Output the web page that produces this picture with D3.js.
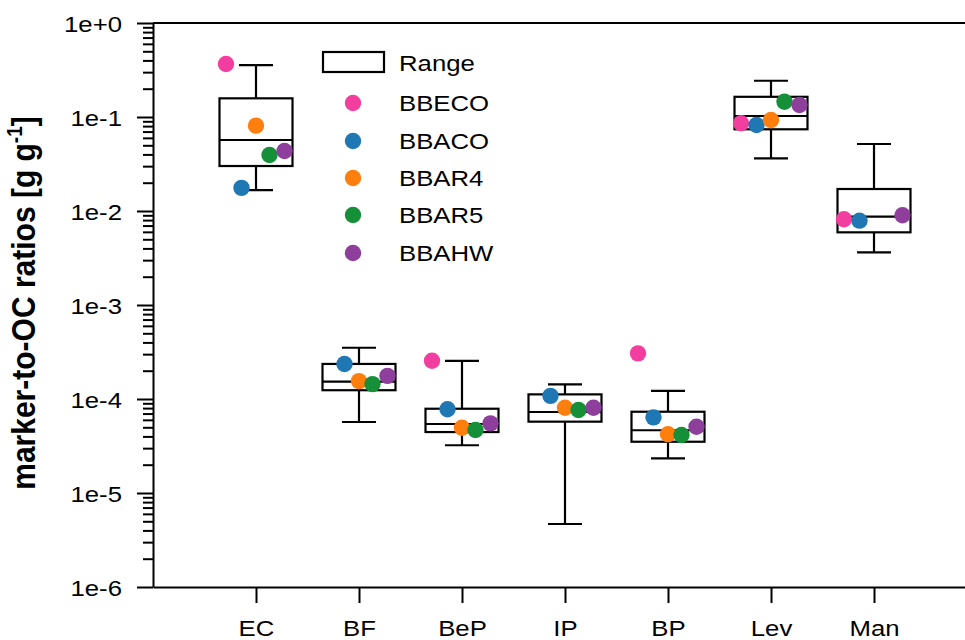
<!DOCTYPE html>
<html>
<head>
<meta charset="utf-8">
<script src="https://cdn.jsdelivr.net/npm/d3@7"></script>
<style>
  html, body { margin: 0; padding: 0; background: #fff; }
  svg { display: block; }
  text { font-family: "Liberation Sans", Arial, Helvetica, sans-serif; fill: #000; }
</style>
</head>
<body>
<svg id="chart" width="965" height="640"></svg>
<script>
// ---------------- data ----------------
const categories = ["EC", "BF", "BeP", "IP", "BP", "Lev", "Man"];
const whiskerHigh = [0.357, 3.51e-4, 2.55e-4, 1.43e-4, 1.22e-4, 0.243, 0.0516];
const boxHigh     = [0.158, 2.36e-4, 7.88e-5, 1.12e-4, 7.32e-5, 0.164, 0.01714];
const medians     = [0.0569, 1.53e-4, 5.42e-5, 7.27e-5, 4.65e-5, 0.1025, 0.0087];
const boxLow      = [0.0301, 1.24e-4, 4.45e-5, 5.74e-5, 3.51e-5, 0.074, 0.00593];
const whiskerLow  = [0.0167, 5.69e-5, 3.22e-5, 4.68e-6, 2.34e-5, 0.0363, 0.00363];

const seriesNames = ["BBECO", "BBACO", "BBAR4", "BBAR5", "BBAHW"];
const bbeco = [0.366, null, 2.55e-4, null, 3.06e-4, 0.0857, 0.00816];
const bbaco = [0.0176, 2.36e-4, 7.77e-5, 1.08e-4, 6.38e-5, 0.0822, 0.00789];
const bbar4 = [0.081, 1.55e-4, 4.95e-5, 8.07e-5, 4.21e-5, 0.0929, null];
const bbar5 = [0.0394, 1.44e-4, 4.68e-5, 7.64e-5, 4.14e-5, 0.1455, null];
const bbahw = [0.0435, 1.76e-4, 5.51e-5, 8.07e-5, 5.07e-5, 0.134, 0.009];
const seriesValues = [bbeco, bbaco, bbar4, bbar5, bbahw];

const yTickValues = [1e-6, 1e-5, 1e-4, 1e-3, 1e-2, 1e-1, 1];
const yTickLabels = ["1e-6", "1e-5", "1e-4", "1e-3", "1e-2", "1e-1", "1e+0"];
const yTitle = "marker-to-OC ratios [g g";
const yTitleSup = "-1";
const legendRangeLabel = "Range";

// ---------------- styles ----------------
const colors = ["#f23f9f", "#1f77b4", "#ff7f0e", "#168f39", "#8e3f9b"];
const dotOffsets = [-30, -14.5, 0, 13.5, 28.5];   // px jitter per series
const FS = 23, SX = 1.12;

const svg = d3.select("#chart");
const mLeft = 153, mTop = 23, mBottom = 587;

const x = d3.scaleLinear().domain([0, categories.length + 1]).range([mLeft, mLeft + 103 * (categories.length + 1)]);
const y = d3.scaleLog().domain([1e-6, 1]).range([mBottom, mTop]);

function stretchTexts(sel) {
  sel.selectAll("text").each(function () {
    const tx = +(this.getAttribute("x") || 0);
    const ty = +(this.getAttribute("y") || 0);
    this.setAttribute("x", 0);
    this.setAttribute("y", 0);
    this.setAttribute("transform", `translate(${tx},${ty}) scale(${SX},1)`);
  });
}

// top frame line
svg.append("line").attr("x1", mLeft).attr("x2", 965).attr("y1", mTop).attr("y2", mTop)
  .attr("stroke", "#000").attr("stroke-width", 2);

// minor y ticks
const minors = [];
for (let e = -6; e < 0; e++) for (let m = 2; m <= 9; m++) minors.push(m * Math.pow(10, e));
svg.append("g").attr("transform", `translate(${mLeft},0)`)
  .call(d3.axisLeft(y).tickValues(minors).tickFormat("").tickSize(10).tickSizeOuter(0))
  .call(g => g.select(".domain").remove())
  .call(g => g.selectAll("line").attr("stroke", "#000").attr("stroke-width", 2));

// major y axis
const yAxisG = svg.append("g").attr("transform", `translate(${mLeft},0)`)
  .call(d3.axisLeft(y).tickValues(yTickValues)
    .tickFormat((d, i) => yTickLabels[i]).tickSize(16).tickPadding(15).tickSizeOuter(0));
yAxisG.select(".domain").attr("stroke", "#000").attr("stroke-width", 2);
yAxisG.selectAll("line").attr("stroke", "#000").attr("stroke-width", 2);
yAxisG.selectAll("text").attr("font-size", FS).attr("dy", "0.36em")
  .style("font-family", "'Liberation Sans', Arial, sans-serif");
stretchTexts(yAxisG);

// x axis
const xAxisG = svg.append("g").attr("transform", `translate(0,${mBottom})`)
  .call(d3.axisBottom(x).tickValues(categories.map((c, i) => i + 1))
    .tickFormat((d, i) => categories[i]).tickSize(16).tickPadding(17).tickSizeOuter(0));
xAxisG.select(".domain").attr("stroke", "#000").attr("stroke-width", 2);
xAxisG.selectAll("line").attr("stroke", "#000").attr("stroke-width", 2);
xAxisG.selectAll("text").attr("font-size", FS)
  .style("font-family", "'Liberation Sans', Arial, sans-serif");
stretchTexts(xAxisG);

// y title
const title = svg.append("text")
  .attr("transform", `translate(35,303) rotate(-90) scale(1,${SX})`)
  .attr("text-anchor", "middle")
  .attr("font-size", 30).attr("font-weight", "bold");
title.append("tspan").text(yTitle);
title.append("tspan").attr("font-size", 19).attr("dy", "-0.6em").text(yTitleSup);
title.append("tspan").attr("dy", "0.38em").text("]");

// boxes
const boxW = 73, capW = 34;
const boxes = svg.append("g").attr("stroke", "#000").attr("stroke-width", 2.2).attr("fill", "none");
categories.forEach((c, i) => {
  const cx = x(i + 1);
  boxes.append("line").attr("x1", cx).attr("x2", cx).attr("y1", y(whiskerHigh[i])).attr("y2", y(boxHigh[i]));
  boxes.append("line").attr("x1", cx).attr("x2", cx).attr("y1", y(boxLow[i])).attr("y2", y(whiskerLow[i]));
  boxes.append("line").attr("x1", cx - capW / 2).attr("x2", cx + capW / 2).attr("y1", y(whiskerHigh[i])).attr("y2", y(whiskerHigh[i]));
  boxes.append("line").attr("x1", cx - capW / 2).attr("x2", cx + capW / 2).attr("y1", y(whiskerLow[i])).attr("y2", y(whiskerLow[i]));
  boxes.append("rect").attr("x", cx - boxW / 2).attr("width", boxW)
    .attr("y", y(boxHigh[i])).attr("height", y(boxLow[i]) - y(boxHigh[i]));
  boxes.append("line").attr("x1", cx - boxW / 2).attr("x2", cx + boxW / 2).attr("y1", y(medians[i])).attr("y2", y(medians[i]));
});

// dots
const dots = svg.append("g");
seriesValues.forEach((vals, s) => {
  vals.forEach((v, i) => {
    if (v == null) return;
    dots.append("circle").attr("cx", x(i + 1) + dotOffsets[s]).attr("cy", y(v))
      .attr("r", 8.2).attr("fill", colors[s]);
  });
});

// legend
const lg = svg.append("g");
lg.append("rect").attr("x", 323).attr("y", 52).attr("width", 61).attr("height", 20)
  .attr("fill", "none").attr("stroke", "#000").attr("stroke-width", 2.2);
const legendTexts = lg.append("g");
legendTexts.append("text").attr("x", 399).attr("y", 63).attr("dy", "0.35em").attr("font-size", FS).text(legendRangeLabel);
const legendY = [103, 141, 178, 215, 253];
seriesNames.forEach((name, s) => {
  lg.append("circle").attr("cx", 353).attr("cy", legendY[s]).attr("r", 8.2).attr("fill", colors[s]);
  legendTexts.append("text").attr("x", 399).attr("y", legendY[s]).attr("dy", "0.35em").attr("font-size", FS).text(name);
});
stretchTexts(lg);
</script>
</body>
</html>
